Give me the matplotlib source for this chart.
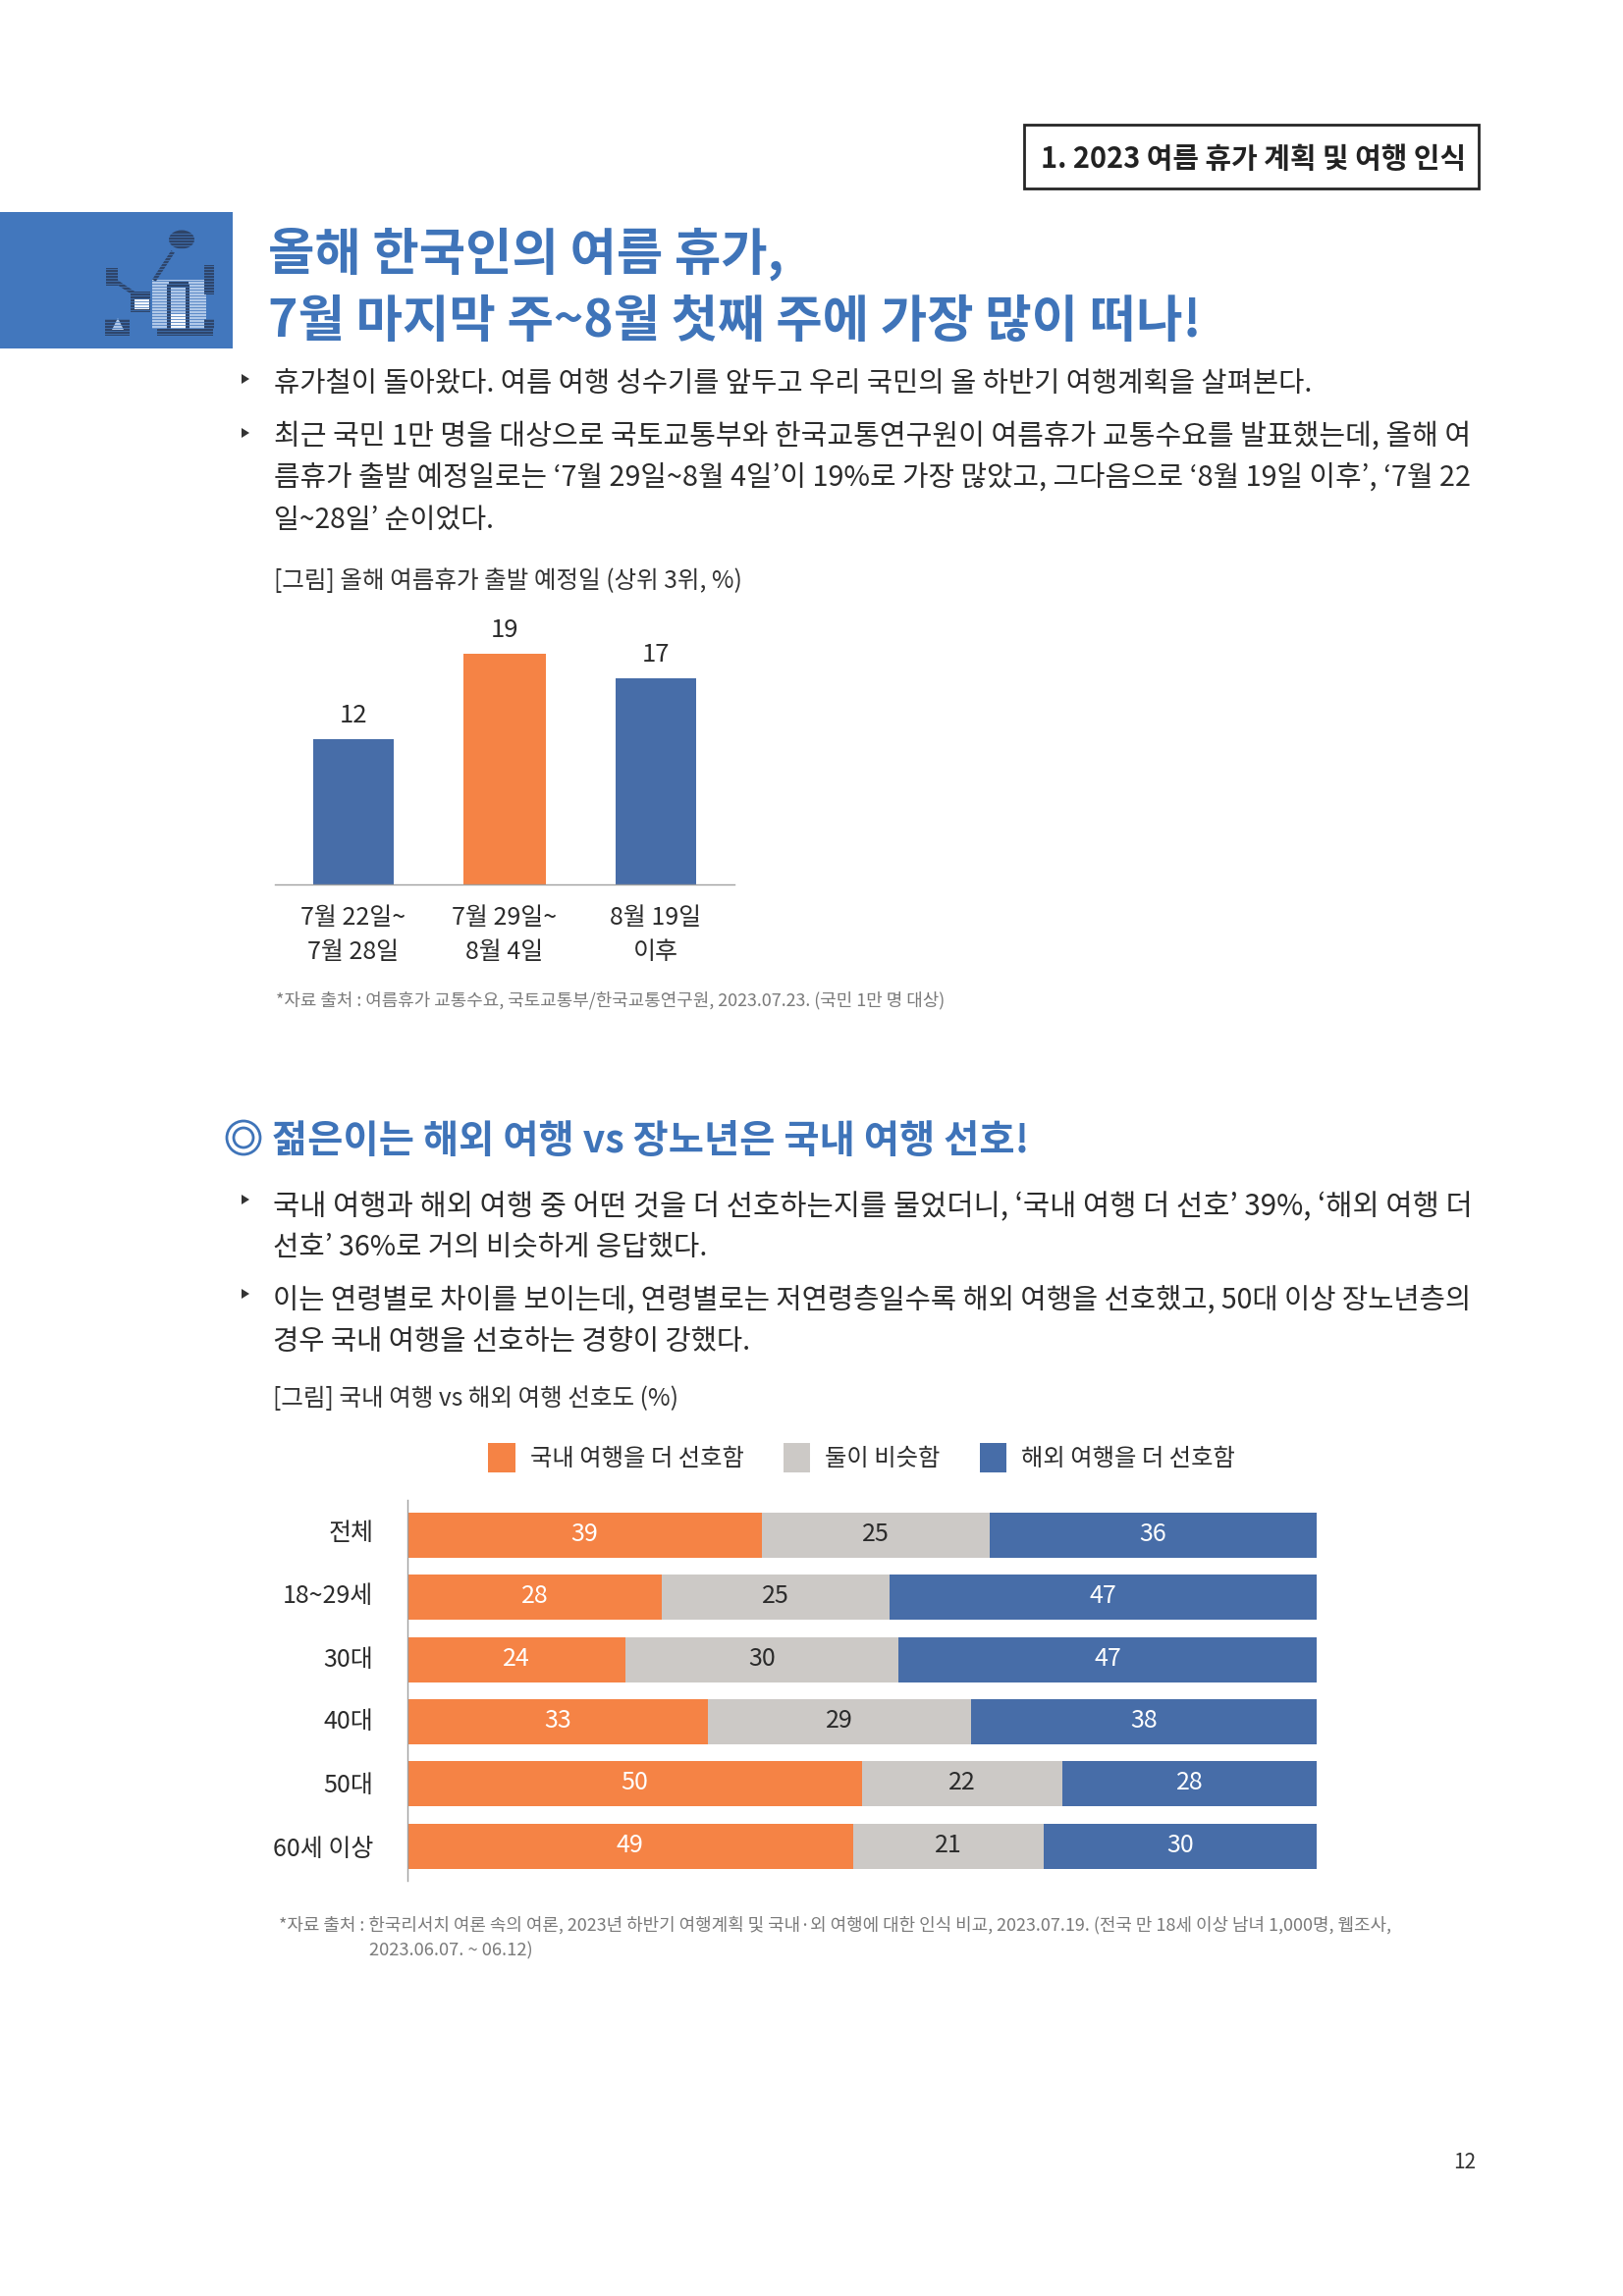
import matplotlib
matplotlib.use("Agg")
import matplotlib.pyplot as plt
from matplotlib.patches import Rectangle, Circle, Polygon, Patch, Ellipse
from matplotlib.transforms import ScaledTranslation

plt.rcParams['font.family'] = ['Noto Sans CJK KR', 'DejaVu Sans']

W, H = 1653, 2339
BLUE_T = '#3F74B9'
BOX = '#4277BD'
ORANGE = '#F58345'
BAR_BLUE = '#476DA8'
GREY = '#CCC9C6'
INK = '#2B2B2B'
SRC = '#7A7A7A'

# chart 1
dep_dates = ['7월 22일~\n7월 28일', '7월 29일~\n8월 4일', '8월 19일\n이후']
dep_values = [12, 19, 17]
dep_colors = [BAR_BLUE, ORANGE, BAR_BLUE]

# chart 2
groups = ['전체', '18~29세', '30대', '40대', '50대', '60세 이상']
domestic = [39, 28, 24, 33, 50, 49]
similar = [25, 25, 30, 29, 22, 21]
overseas = [36, 47, 46, 38, 28, 30]
overseas_labels = [36, 47, 47, 38, 28, 30]
legend_names = ['국내 여행을 더 선호함', '둘이 비슷함', '해외 여행을 더 선호함']

fig = plt.figure(figsize=(W / 100, H / 100), dpi=100, facecolor='white')
bg = fig.add_axes([0, 0, 1, 1])
bg.set_xlim(0, W)
bg.set_ylim(H, 0)
bg.axis('off')
renderer = fig.canvas.get_renderer()


def fit(txt, x0, x1, y, size, color=INK, weight='normal'):
    t = bg.text(x0, y, txt, fontsize=size, color=color, fontweight=weight,
                ha='left', va='center')
    w = t.get_window_extent(renderer).width
    t.set_fontsize(size * (x1 - x0) / w)
    return t


def rect(x0, y0, x1, y1, c, **kw):
    bg.add_patch(Rectangle((x0, y0), x1 - x0, y1 - y0, facecolor=c, edgecolor='none', **kw))


# header box
bg.add_patch(Rectangle((1043, 127), 463, 65, facecolor='white', edgecolor='#262626', linewidth=2))
fit('1. 2023 여름 휴가 계획 및 여행 인식', 1060, 1492, 162, 20, color='#222222', weight='bold')

# icon
rect(0, 216, 237, 355, BOX)
DARK = '#2E4468'
rect(155, 285, 210, 335, '#B5CCEA')
rect(173, 320, 190, 335, 'white')
rect(170, 290, 174, 335, DARK)
rect(189, 290, 193, 335, DARK)
rect(172, 287, 192, 293, DARK)
bg.add_patch(Ellipse((185, 244), 26, 19, facecolor=DARK, edgecolor='none'))
bg.plot([175, 158], [258, 284], color=DARK, lw=3)
bg.plot([120, 135], [288, 298], color=DARK, lw=3)
rect(108, 273, 120, 291, DARK)
rect(208, 270, 218, 300, DARK)
rect(133, 297, 153, 318, DARK)
rect(137, 305, 152, 315, 'white')
rect(107, 325, 132, 342, DARK)
bg.add_patch(Polygon([(114, 336), (126, 336), (120, 324)], facecolor='#B5CCEA', edgecolor='none'))
rect(160, 335, 217, 342, DARK)
rect(208, 325, 218, 335, DARK)
for yy in range(238, 346, 3):
    bg.plot([104, 222], [yy, yy], color=BOX, lw=0.8, alpha=0.75)

# titles
fit('올해 한국인의 여름 휴가,', 273, 798, 259, 37, color=BLUE_T, weight='bold')
fit('7월 마지막 주~8월 첫째 주에 가장 많이 떠나!', 273, 1223, 328, 37, color=BLUE_T, weight='bold')

# body part one
for y in (386, 441):
    bg.add_patch(Polygon([(246, y - 5), (246, y + 5), (254, y)], facecolor='#333333', edgecolor='none'))
fit('휴가철이 돌아왔다. 여름 여행 성수기를 앞두고 우리 국민의 올 하반기 여행계획을 살펴본다.', 279, 1333, 391, 20)
fit('최근 국민 1만 명을 대상으로 국토교통부와 한국교통연구원이 여름휴가 교통수요를 발표했는데, 올해 여', 279, 1497, 445, 20)
fit('름휴가 출발 예정일로는 ‘7월 29일~8월 4일’이 19%로 가장 많았고, 그다음으로 ‘8월 19일 이후’, ‘7월 22', 279, 1497, 487, 20)
fit('일~28일’ 순이었다.', 279, 503, 530, 20)
fit('[그림] 올해 여름휴가 출발 예정일 (상위 3위, %)', 279, 755, 592, 17, color='#333333')
fit('*자료 출처 : 여름휴가 교통수요, 국토교통부/한국교통연구원, 2023.07.23. (국민 1만 명 대상)', 281, 963, 1019, 14, color=SRC)

# chart 1
ax1 = fig.add_axes([280 / W, 1 - 901 / H, 468 / W, 272 / H])
ax1.patch.set_alpha(0)
ax1.bar(range(3), dep_values, width=[0.535, 0.545, 0.535], color=dep_colors)
for i, v in enumerate(dep_values):
    ax1.text(i, v + 1.95, str(v), ha='center', va='center', fontsize=18.5, color=INK)
ax1.set_xlim(-0.519, 2.52)
ax1.set_ylim(0, 22)
ax1.set_yticks([])
ax1.set_xticks(range(3))
ax1.set_xticklabels(dep_dates, fontsize=18, color=INK, linespacing=1.45)
ax1.tick_params(axis='x', length=0, pad=15)
for s in ('top', 'left', 'right'):
    ax1.spines[s].set_visible(False)
ax1.spines['bottom'].set_color('#A0A0A0')
ax1.spines['bottom'].set_linewidth(1)

# section 2 heading
bg.add_patch(Circle((248, 1159), 17, facecolor='none', edgecolor=BLUE_T, linewidth=2))
bg.add_patch(Circle((248, 1159), 10, facecolor='none', edgecolor=BLUE_T, linewidth=2))
fit('젊은이는 해외 여행 vs 장노년은 국내 여행 선호!', 277, 1049, 1162, 30, color=BLUE_T, weight='bold')

for y in (1222, 1318):
    bg.add_patch(Polygon([(246, y - 5), (246, y + 5), (254, y)], facecolor='#333333', edgecolor='none'))
fit('국내 여행과 해외 여행 중 어떤 것을 더 선호하는지를 물었더니, ‘국내 여행 더 선호’ 39%, ‘해외 여행 더', 278, 1497, 1230, 20)
fit('선호’ 36%로 거의 비슷하게 응답했다.', 278, 719, 1271, 20)
fit('이는 연령별로 차이를 보이는데, 연령별로는 저연령층일수록 해외 여행을 선호했고, 50대 이상 장노년층의', 278, 1497, 1325, 20)
fit('경우 국내 여행을 선호하는 경향이 강했다.', 278, 764, 1367, 20)
fit('[그림] 국내 여행 vs 해외 여행 선호도 (%)', 278, 691, 1425, 17, color='#333333')

# chart 2
ax2 = fig.add_axes([415 / W, 1 - 1916 / H, 926 / W, 388 / H])
ax2.patch.set_alpha(0)
ypos = list(range(len(groups)))
left2 = [a + b for a, b in zip(domestic, similar)]
ax2.barh(ypos, domestic, height=0.727, color=ORANGE)
ax2.barh(ypos, similar, left=domestic, height=0.727, color=GREY)
ax2.barh(ypos, overseas, left=left2, height=0.727, color=BAR_BLUE)
for i in ypos:
    ax2.text(domestic[i] / 2, i - 0.015, str(domestic[i]), ha='center', va='center', fontsize=18, color='white')
    ax2.text(domestic[i] + similar[i] / 2, i - 0.015, str(similar[i]), ha='center', va='center', fontsize=18, color=INK)
    ax2.text(left2[i] + overseas[i] / 2, i - 0.015, str(overseas_labels[i]), ha='center', va='center', fontsize=18, color='white')
ax2.set_xlim(0, 100)
ax2.set_ylim(5.56, -0.57)
ax2.set_xticks([])
ax2.set_yticks(ypos)
ax2.set_yticklabels(groups, fontsize=18, color=INK)
ax2.tick_params(axis='y', length=0, pad=25)
for lab, up in zip(ax2.get_yticklabels(), (5.5, 4.5, 3, 3, 1.5, 0)):
    lab.set_transform(lab.get_transform() + ScaledTranslation(0, up / 100, fig.dpi_scale_trans))
for s in ('top', 'bottom', 'right'):
    ax2.spines[s].set_visible(False)
ax2.spines['left'].set_color('#A0A0A0')
ax2.spines['left'].set_linewidth(1)

handles = [Patch(facecolor=c, edgecolor='none') for c in (ORANGE, GREY, BAR_BLUE)]
fig.legend(handles, legend_names, ncol=3, loc='center left',
           bbox_to_anchor=(497 / W, 1 - 1485 / H), fontsize=17.5, frameon=False,
           borderpad=0, borderaxespad=0, handlelength=1.15, handleheight=1.46,
           handletextpad=0.6, columnspacing=1.65, labelcolor=INK)

# footnotes and page number
fit('*자료 출처 : 한국리서치 여론 속의 여론, 2023년 하반기 여행계획 및 국내·외 여행에 대한 인식 비교, 2023.07.19. (전국 만 18세 이상 남녀 1,000명, 웹조사,', 284, 1420, 1961, 13, color=SRC)
fit('2023.06.07. ~ 06.12)', 376, 543, 1987, 13, color=SRC)
fit('12', 1480, 1503, 2203, 15, color='#333333')

fig.savefig('out.png', dpi=100)
